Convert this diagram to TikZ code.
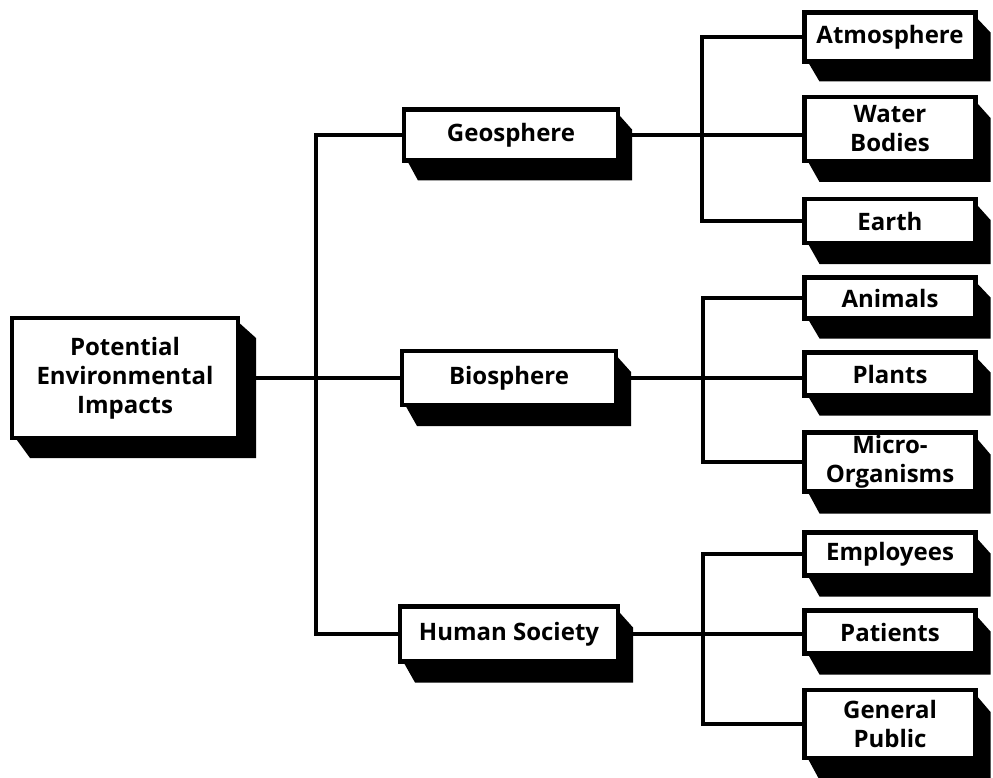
\documentclass[tikz,border=0pt]{standalone}
\usepackage{fontspec}
\setmainfont{Open Sans}
\usetikzlibrary{backgrounds}
\tikzset{
  box/.style={draw=black, fill=white, line width=4.5pt, inner sep=0pt, outer sep=0pt,
    align=center, font=\bfseries\fontsize{24}{29}\selectfont},
  link/.style={line width=4pt, line cap=rect}
}
\begin{document}
\begin{tikzpicture}[x=1pt, y=-1pt]
\useasboundingbox (0,0) rectangle (993,778);

% root
\node[box, minimum width=226pt, minimum height=120pt] (root) at (125,378) {Potential\\Environmental\\Impacts};

% middle level
\node[box, minimum width=214pt, minimum height=51pt] (geo) at (511,135) {Geosphere};
\node[box, minimum width=214pt, minimum height=54pt] (bio) at (509,378) {Biosphere};
\node[box, minimum width=218pt, minimum height=55pt] (hum) at (509,634) {Human Society};

% leaves
\tikzset{leaf/.style={box, minimum width=171pt}}
\node[leaf, minimum height=49pt] (atm) at (890,37) {Atmosphere};
\node[leaf, minimum height=64pt] (wat) at (890,129) {Water\\Bodies};
\node[leaf, minimum height=44pt] (ear) at (890,221) {Earth};
\node[leaf, minimum height=41pt] (ani) at (890,298) {Animals};
\node[leaf, minimum height=43pt] (pla) at (890,374) {Plants};
\node[leaf, minimum height=59pt] (mic) at (890,462) {Micro-\\Organisms};
\node[leaf, minimum height=43pt] (emp) at (890,554) {Employees};
\node[leaf, minimum height=43pt] (pat) at (890,632) {Patients};
\node[leaf, minimum height=68pt] (gen) at (890,724) {General\\Public};

% extruded black sides behind every box
\begin{pgfonlayer}{background}
\foreach \n/\dx/\dy in {root/18/20, geo/14/20, bio/15/21, hum/15/21,
    atm/15/20, wat/15/21, ear/15/21, ani/15/20, pla/15/20, mic/15/22,
    emp/15/21, pat/15/21, gen/15/22} {
  \fill[black] ([shift={(-2,2)}]\n.north east) -- ([shift={(\dx,\dy)}]\n.north east)
    -- ([shift={(\dx,\dy)}]\n.south east) -- ([shift={(\dx,\dy)}]\n.south west)
    -- ([shift={(2,-2)}]\n.south west) -- cycle;
}
\end{pgfonlayer}

% trunk: root to the three spheres
\coordinate (lbus) at (316,0);
\draw[link] (root.east) -- (bio.west);
\draw[link] (geo.west) -- (geo.west -| lbus) -- (hum.west -| lbus) -- (hum.west);

% geosphere branch
\coordinate (gbus) at (702,0);
\draw[link] (geo.east) -- (geo.east -| wat.west);
\draw[link] (atm.west) -- (atm.west -| gbus) -- (ear.west -| gbus) -- (ear.west);

% biosphere branch
\coordinate (bbus) at (703,0);
\draw[link] (bio.east) -- (bio.east -| pla.west);
\draw[link] (ani.west) -- (ani.west -| bbus) -- (mic.west -| bbus) -- (mic.west);

% human society branch
\coordinate (hbus) at (703,0);
\draw[link] (hum.east) -- (hum.east -| pat.west);
\draw[link] (emp.west) -- (emp.west -| hbus) -- (gen.west -| hbus) -- (gen.west);
\end{tikzpicture}
\end{document}
